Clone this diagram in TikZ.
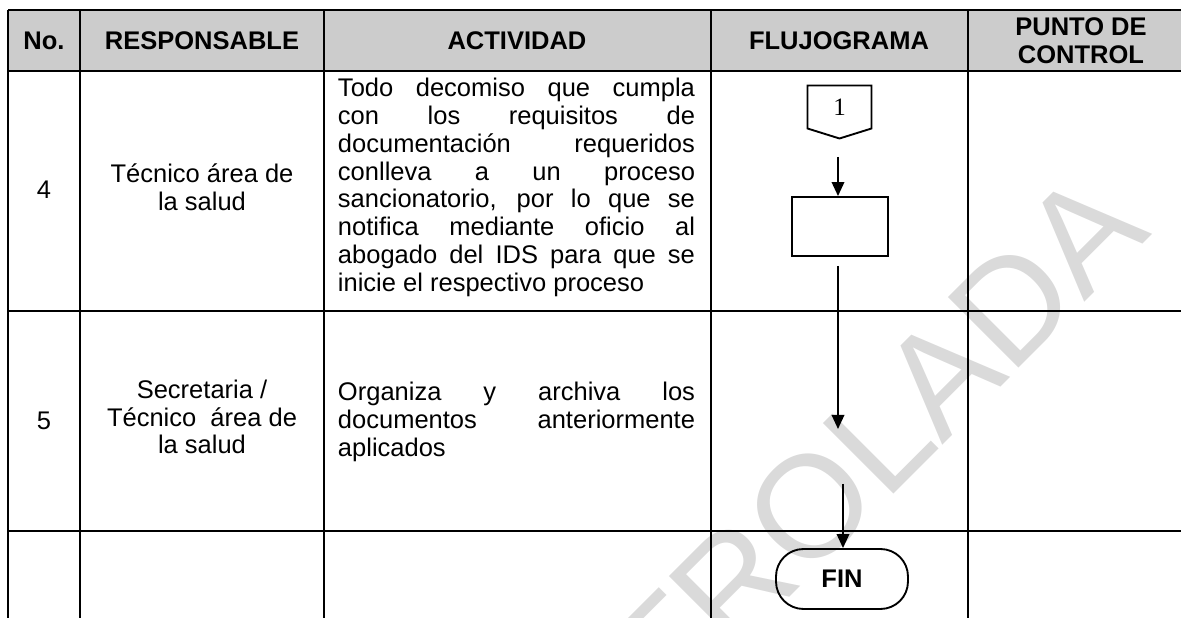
\documentclass[tikz,border=0pt]{standalone}
\usepackage{fontspec}
\setmainfont{Liberation Sans}
\newfontfamily\timesfont{Liberation Serif}
\usetikzlibrary{arrows.meta}

\definecolor{headgray}{HTML}{CCCCCC}
\definecolor{markgray}{HTML}{DADADA}

\begin{document}
\begin{tikzpicture}[x=0.4pt, y=-0.4pt,
  txt/.style={font=\fontsize{10.2}{11.1}\selectfont, inner sep=0pt, align=center},
  headtxt/.style={txt, font=\fontsize{10.2}{11.1}\selectfont\bfseries},
  acttxt/.style={txt, text width=142.8pt, align=justify},
  rule/.style={line width=1pt},
  flow/.style={line width=0.75pt},
  arr/.style={flow, -{Triangle[length=5.6pt, width=5pt]}}]

\useasboundingbox (0,0) rectangle (1181,618);

%─────────────
% Watermark
%─────────────
\begin{scope}
  \clip (0,0) rectangle (1181,618);
  \node[rotate=45, inner sep=0pt, text=markgray,
        font=\fontsize{58}{58}\selectfont] (mark) at (762,555) {CONTROLADA};
\end{scope}

%─────────────
% Table grid
%─────────────
\fill[headgray] (8,10) rectangle (1181,71);
\foreach \x in {8,80,324,711,968} {
  \draw[rule] (\x,10) -- (\x,618);
}
\foreach \y in {10,71,311,531} {
  \draw[rule] (8,\y) -- (1181,\y);
}

%─────────────
% Header
%─────────────
\node[headtxt] (hno)   at (44,40.5)   {No.};
\node[headtxt] (hresp) at (202,40.5)  {RESPONSABLE};
\node[headtxt] (hact)  at (517,40.5)  {ACTIVIDAD};
\node[headtxt] (hflow) at (839,40.5)  {FLUJOGRAMA};
\node[headtxt] (hctrl) at (1081,40.5) {PUNTO DE\\CONTROL};

%─────────────
% Row 4
%─────────────
\node[txt] (no4)   at (44,190)  {4};
\node[txt] (resp4) at (202,187) {Técnico área de\\la salud};
\node[acttxt] (act4) at (516.5,187.5) {Todo decomiso que cumpla\linebreak
  con los requisitos de\linebreak
  documentación requeridos\linebreak
  conlleva a un proceso\linebreak
  sancionatorio, por lo que se\linebreak
  notifica mediante oficio al\linebreak
  abogado del IDS para que se\linebreak
  inicie el respectivo proceso};

%─────────────
% Row 5
%─────────────
\node[txt] (no5)   at (44,421)  {5};
\node[txt] (resp5) at (202,417) {Secretaria /\\Técnico\ \ área de\\la salud};
\node[acttxt] (act5) at (516.5,422) {Organiza y archiva los\linebreak
  documentos anteriormente\linebreak
  aplicados};

%─────────────
% Flow chart
%─────────────
\node[inner sep=0pt, minimum width=25.2pt, minimum height=16.8pt,
      font=\timesfont\fontsize{10}{10}\selectfont] (con) at (839.5,107) {1};
\draw[flow] (con.north west) -- (con.north east) -- (con.south east)
  -- ([yshift=-4pt]con.south) -- (con.south west) -- cycle;

\node[flow, draw, minimum width=38.4pt, minimum height=23.6pt] (proc) at (840,226.5) {};
\node[flow, draw, rounded corners=11pt, minimum width=52.8pt, minimum height=24pt,
      font=\fontsize{10.2}{11.1}\selectfont\bfseries] (fin) at (842,579) {FIN};

\coordinate (c1) at (838,157);
\coordinate (c2) at (838,266);
\coordinate (c3) at (838,429);
\coordinate (c4) at (843,484);

\draw[arr] (c1) -- (c1 |- proc.north);
\draw[arr] (c2) -- (c3);
\draw[arr] (c4) -- (c4 |- fin.north);

\end{tikzpicture}
\end{document}
